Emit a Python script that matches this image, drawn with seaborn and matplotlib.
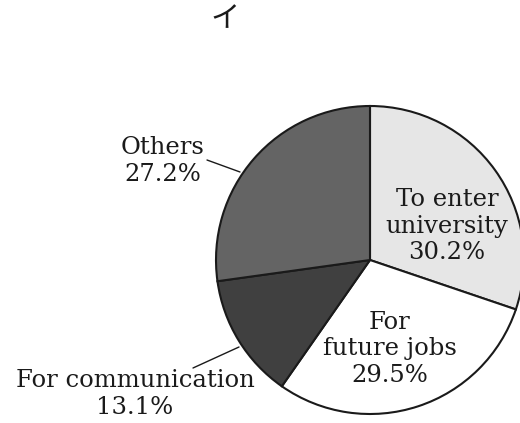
import matplotlib
matplotlib.use("Agg")
import matplotlib.pyplot as plt
import seaborn as sns

sns.set_theme(style="white")

title = "イ"
categories = ["To enter\nuniversity", "For\nfuture jobs", "For communication", "Others"]
values = [30.2, 29.5, 13.1, 27.2]
colors = ["#e6e6e6", "#ffffff", "#404040", "#646464"]

W, H = 520, 423
fig = plt.figure(figsize=(W / 100, H / 100), dpi=100)
ax = fig.add_axes([0, 0, 1, 1])

cx, cy, r = 370, H - 260, 154
ax.pie(values, colors=colors, startangle=90, counterclock=False,
       center=(cx, cy), radius=r,
       wedgeprops=dict(edgecolor="#1a1a1a", linewidth=1.5))
ax.set_xlim(0, W)
ax.set_ylim(0, H)
ax.set_aspect("equal", adjustable="box")
ax.axis("off")

font = dict(family="DejaVu Serif", fontsize=17.5, color="#1a1a1a",
            ha="center", va="center", linespacing=1.2)
labels = [f"{c}\n{v:.1f}%" for c, v in zip(categories, values)]
pos = [(447, 226), (390, 349), (135, 394), (163, 161)]
for lab, (x, y) in zip(labels, pos):
    ax.text(x, H - y, lab, **font)

# leader lines
ax.plot([193, 239], [H - 368, H - 347], color="#1a1a1a", lw=1)
ax.plot([207, 240], [H - 160, H - 172], color="#1a1a1a", lw=1)

ax.text(225, H - 27, title, family=["Noto Sans CJK JP", "DejaVu Sans"],
        fontsize=21, ha="center", va="baseline", color="#1a1a1a")

fig.savefig("out.png", dpi=100)
